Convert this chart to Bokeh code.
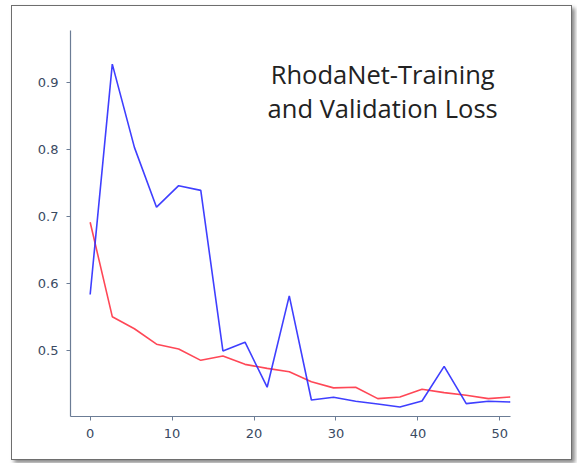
from bokeh.plotting import figure
from bokeh.models import Label, FixedTicker, Range1d
from bokeh.embed import file_html
from bokeh.resources import INLINE

epochs = [0, 2.7, 5.4, 8.1, 10.8, 13.5, 16.2, 18.9, 21.6, 24.3, 27.0, 29.7,
          32.4, 35.1, 37.8, 40.5, 43.2, 45.9, 48.6, 51.3]
val_loss = [0.584, 0.927, 0.803, 0.714, 0.746, 0.739, 0.500, 0.513, 0.446, 0.582,
            0.427, 0.431, 0.425, 0.421, 0.4165, 0.4255, 0.477, 0.4215, 0.425, 0.424]
train_loss = [0.6915, 0.551, 0.533, 0.510, 0.503, 0.486, 0.4925, 0.480, 0.474, 0.469,
              0.454, 0.445, 0.446, 0.429, 0.4315, 0.443, 0.438, 0.434, 0.429, 0.4315]
x_ticks = [0, 10, 20, 30, 40, 50]
y_ticks = [0.5, 0.6, 0.7, 0.8, 0.9]
title_lines = ["RhodaNet-Training", "and Validation Loss"]

p = figure(width=561, height=455, output_backend="svg", toolbar_location=None,
           x_range=Range1d(-2.4, 51.3), y_range=Range1d(0.4024, 0.977),
           min_border_left=58, min_border_right=63, min_border_top=24, min_border_bottom=45,
           margin=(5, 0, 0, 11),
           styles={"border": "1.5px solid #6e6e6e", "box-shadow": "3px 3px 4px #8a8a8a",
                   "box-sizing": "border-box"})
p.outline_line_color = None
p.grid.visible = False

spine = "#6b7c95"
for ax in (p.xaxis[0], p.yaxis[0]):
    ax.axis_line_color = spine
    ax.axis_line_width = 1.2
    ax.major_tick_line_color = spine
    ax.major_tick_out = 4
    ax.major_tick_in = 0
    ax.minor_tick_line_color = None
    ax.major_label_text_color = "#3a4a62"
    ax.major_label_text_font = "DejaVu Sans"
    ax.major_label_text_font_size = "13px"
    ax.major_label_standoff = 8
p.xaxis.ticker = FixedTicker(ticks=x_ticks)
p.yaxis.ticker = FixedTicker(ticks=y_ticks)
p.xaxis.major_label_overrides = {t: str(t) for t in x_ticks}
p.yaxis.major_label_overrides = {t: f"{t:.1f}" for t in y_ticks}

p.line(epochs, train_loss, line_color="#ff3344", line_width=1.6, line_alpha=0.9)
p.line(epochs, val_loss, line_color="#2a2aff", line_width=1.6, line_alpha=0.9)

for txt, yb in zip(title_lines, [0.912, 0.861]):
    p.add_layout(Label(x=35.7, y=yb, text=txt, text_align="center",
                       text_baseline="alphabetic", text_font="Open Sans",
                       text_font_size="25.5px", text_color="#222222"))

open("out.html", "w").write(file_html(p, INLINE))
